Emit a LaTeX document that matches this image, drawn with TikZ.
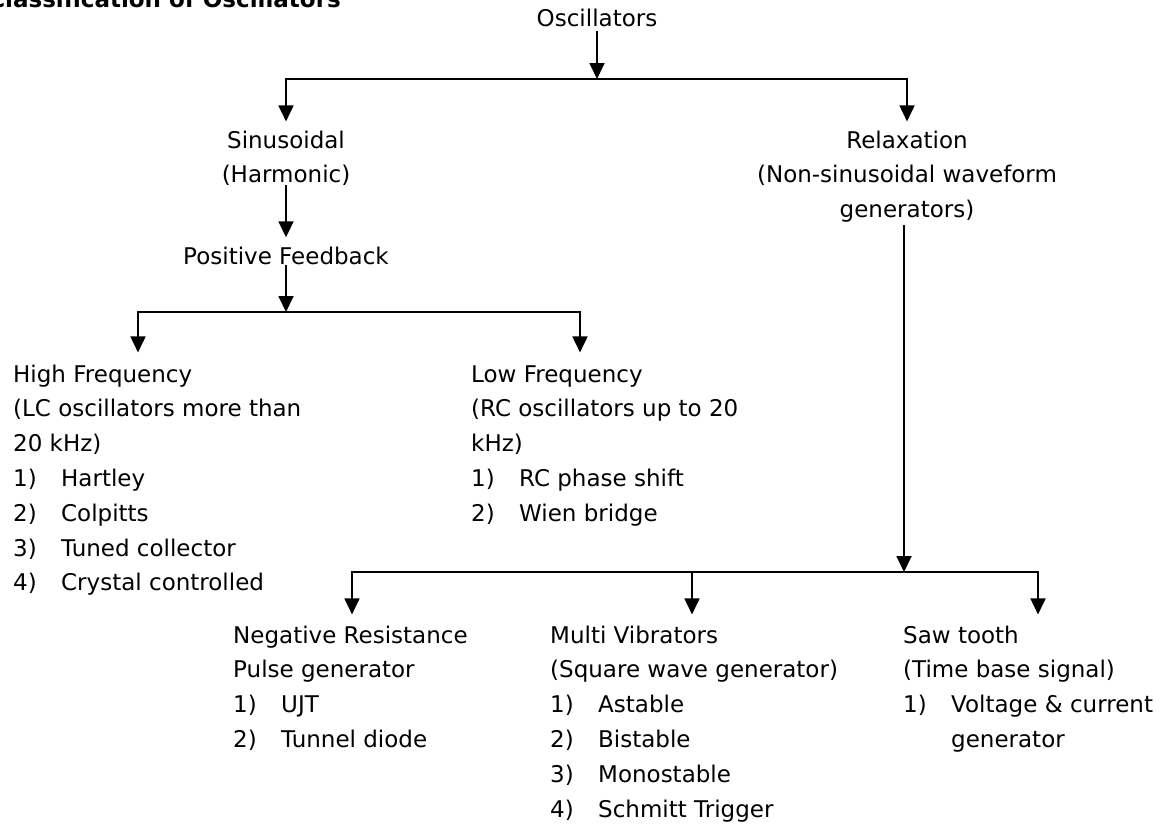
\documentclass[tikz,border=0pt]{standalone}
\usepackage{fontspec}
\setmainfont{DejaVu Sans}
\usetikzlibrary{arrows.meta}

% body text size and line pitch
\newcommand\txtfont{\fontsize{23}{34.8}\selectfont}
% a left-aligned block whose baseline is that of its first line
\newcommand\lblock[1]{\begin{tabular}[t]{@{}l@{}}#1\end{tabular}}
% a centred block, same baseline rule
\newcommand\cblock[1]{\begin{tabular}[t]{@{}c@{}}#1\end{tabular}}
% numbered entry with a hanging tab
\newcommand\itm[2]{\makebox[48pt][l]{#1}#2}

\tikzset{
  txt/.style={inner sep=0pt, font=\txtfont},
  line/.style={line width=1.8pt, black},
  arr/.style={line, -{Triangle[length=16pt,width=15pt]}}
}

\begin{document}
\begin{tikzpicture}[x=1pt, y=-1pt]
\useasboundingbox (0,0) rectangle (1168,827);

% heading
\node[txt, anchor=base east, font=\txtfont\bfseries] (title) at (341,7)
  {Classification of Oscillators};

% tree levels
\node[txt, anchor=base] (osc) at (597,27) {Oscillators};
\node[txt, anchor=base] (sin) at (286,148) {\cblock{Sinusoidal\\(Harmonic)}};
\node[txt, anchor=base] (rel) at (907,148)
  {\cblock{Relaxation\\(Non-sinusoidal waveform\\generators)}};
\node[txt, anchor=base] (pf) at (286,264) {Positive Feedback};

\node[txt, anchor=base west] (hf) at (13,382)
  {\lblock{High Frequency\\(LC oscillators more than\\20 kHz)\\
   \itm{1)}{Hartley}\\\itm{2)}{Colpitts}\\\itm{3)}{Tuned collector}\\
   \itm{4)}{Crystal controlled}}};
\node[txt, anchor=base west] (lf) at (471,382)
  {\lblock{Low Frequency\\(RC oscillators up to 20\\kHz)\\
   \itm{1)}{RC phase shift}\\\itm{2)}{Wien bridge}}};

\node[txt, anchor=base west] (nr) at (233,643)
  {\lblock{Negative Resistance\\Pulse generator\\
   \itm{1)}{UJT}\\\itm{2)}{Tunnel diode}}};
\node[txt, anchor=base west] (mv) at (550,643)
  {\lblock{Multi Vibrators\\(Square wave generator)\\
   \itm{1)}{Astable}\\\itm{2)}{Bistable}\\\itm{3)}{Monostable}\\
   \itm{4)}{Schmitt Trigger}}};
\node[txt, anchor=base west] (st) at (903,643)
  {\lblock{Saw tooth\\(Time base signal)\\
   \itm{1)}{Voltage \& current}\\\itm{}{generator}}};

% branch points
\coordinate (b1) at (597,79);
\coordinate (b2) at (286,312);
\coordinate (b3) at (904,572);
\coordinate (r0) at ([yshift=3pt]rel.south);

% connectors
\draw[arr] ([yshift=-3pt]osc.south) -- (b1);
\draw[arr] (b1) -| ([yshift=2pt]sin.north);
\draw[arr] (b1) -| ([yshift=2pt]rel.north);

\draw[arr] ([yshift=8pt]sin.south) -- ([yshift=9pt]pf.north);
\draw[arr] (pf.south) -- (b2);
\draw[arr] (b2) -| ([xshift=125pt,yshift=5pt]hf.north west);
\draw[arr] (b2) -| ([xshift=109pt,yshift=5pt]lf.north west);

\draw[arr] (b3 |- r0) -- (b3);
\draw[arr] (b3) -| ([xshift=119pt,yshift=4pt]nr.north west);
\draw[arr] (b3) -| ([xshift=142pt,yshift=4pt]mv.north west);
\draw[arr] (b3) -| ([xshift=135pt,yshift=4pt]st.north west);
\end{tikzpicture}
\end{document}
